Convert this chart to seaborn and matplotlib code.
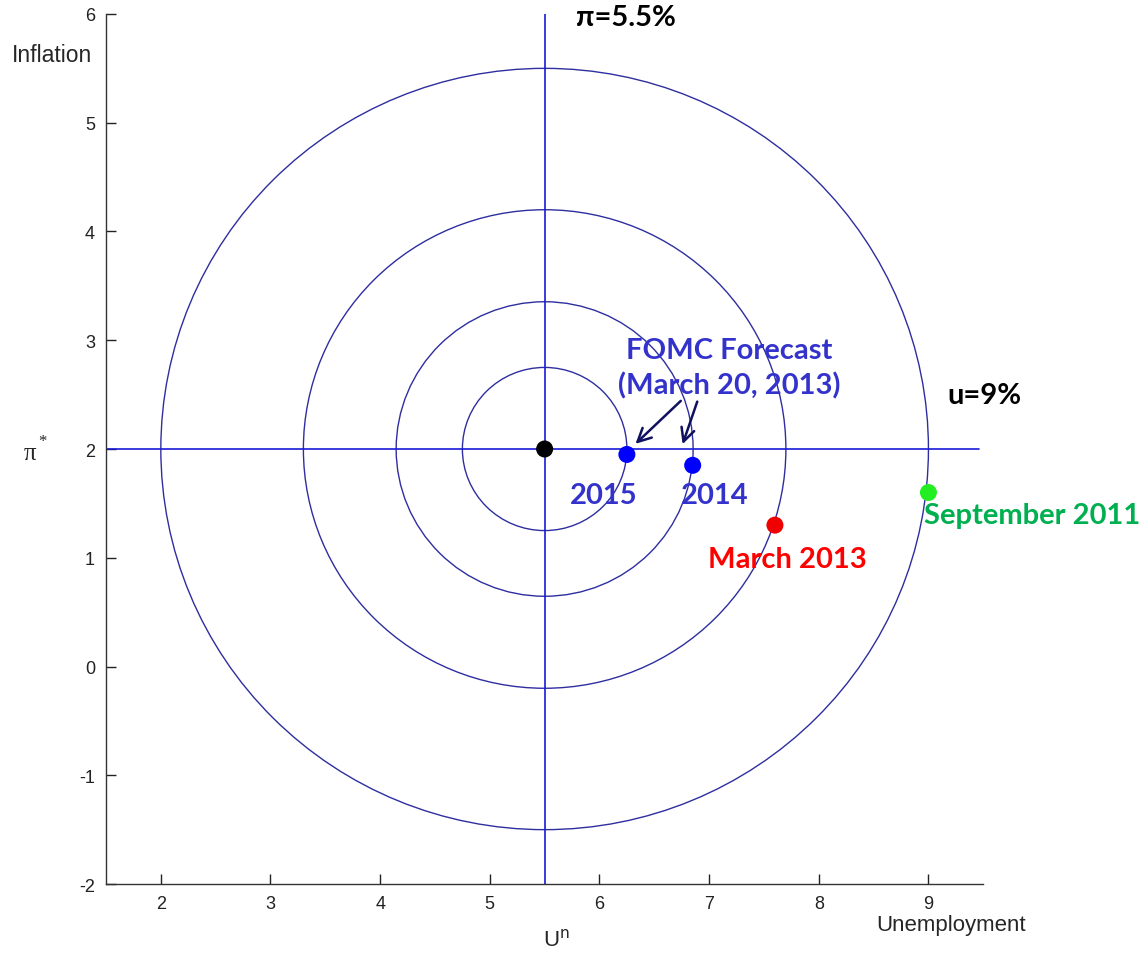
import matplotlib
matplotlib.use('Agg')
import matplotlib.pyplot as plt
import matplotlib.patches as mpatches
import pandas as pd
import seaborn as sns

# Data
center_u = 5.5
center_pi = 2.0
radii = [0.75, 1.354, 2.2, 3.5]

point_labels = ['Target', '2015', '2014', 'March 2013', 'September 2011']
point_u = [5.5, 6.25, 6.85, 7.6, 9.0]
point_pi = [2.0, 1.95, 1.85, 1.3, 1.6]
point_colors = ['#000000', '#0000FF', '#0000FF', '#F00000', '#22EE22']

x_ticks = [2, 3, 4, 5, 6, 7, 8, 9]
y_ticks = [-2, -1, 0, 1, 2, 3, 4, 5, 6]

df = pd.DataFrame({'label': point_labels, 'u': point_u, 'pi': point_pi})

sns.set_style('white')
plt.rcParams['font.family'] = ['Liberation Sans', 'DejaVu Sans']
plt.rcParams['axes.unicode_minus'] = False

fig = plt.figure(figsize=(11.46, 9.54), dpi=100)
ax = fig.add_axes([0.0925, 0.0723, 0.7655, 0.912])

# loss circles
for r in radii:
    ax.add_patch(mpatches.Circle((center_u, center_pi), r, fill=False,
                                 edgecolor='#2e2ea0', linewidth=1.0))

# target lines
ax.axhline(center_pi, xmin=0, xmax=0.995, color='#1a1ad8', linewidth=1.2)
ax.axvline(center_u, color='#1a1ad8', linewidth=1.2)

sns.scatterplot(data=df, x='u', y='pi', hue='label', palette=point_colors,
                s=150, edgecolor='none', legend=False, ax=ax, zorder=5)

ax.set_xlim(1.5, 9.5)
ax.set_ylim(-2, 6)
ax.set_xticks(x_ticks)
ax.set_yticks(y_ticks)
ax.set_xlabel('')
ax.set_ylabel('')
ax.tick_params(bottom=True, left=True, direction='in', length=7, width=1,
               labelsize=13, colors='#222222', pad=8)
for side in ['top', 'right']:
    ax.spines[side].set_visible(False)
for side in ['left', 'bottom']:
    ax.spines[side].set_color('#333333')
    ax.spines[side].set_linewidth(1.0)

bold = dict(family=['Lato', 'DejaVu Sans'], fontweight='bold', fontsize=21)
ax.text(5.79, 5.97, 'π=5.5%', color='black', ha='left', va='center', clip_on=False, **bold)
ax.text(9.175, 2.50, 'u=9%', color='black', ha='left', va='center', clip_on=False, **bold)
ax.text(7.18, 2.906, 'FOMC Forecast', color='#3333CC', ha='center', va='center', **bold)
ax.text(7.18, 2.593, '(March 20, 2013)', color='#3333CC', ha='center', va='center', **bold)
ax.text(5.73, 1.574, '2015', color='#3333CC', ha='left', va='center', **bold)
ax.text(6.74, 1.574, '2014', color='#3333CC', ha='left', va='center', **bold)
ax.text(6.99, 0.986, 'March 2013', color='#FF0000', ha='left', va='center', **bold)
ax.text(8.957, 1.39, 'September 2011', color='#00B050', ha='left', va='center', clip_on=False, **bold)

arrow = dict(arrowstyle='->', color='#101060', linewidth=1.8, mutation_scale=24)
ax.annotate('', xy=(6.31, 2.03), xytext=(6.76, 2.46), arrowprops=arrow)
ax.annotate('', xy=(6.75, 2.02), xytext=(6.90, 2.46), arrowprops=arrow)

fig.text(0.0105, 0.942, 'Inflation', fontsize=16.5, ha='left', va='center')
fig.text(0.021, 0.524, 'π', fontsize=18, ha='left', va='center',
         family=['Liberation Serif'])
fig.text(0.0335, 0.537, '*', fontsize=12, ha='left', va='center',
         family=['Liberation Serif'])
fig.text(0.4735, 0.0147, r'U$^{\rm n}$', fontsize=16, ha='left', va='center')
fig.text(0.7645, 0.030, 'Unemployment', fontsize=16, ha='left', va='center')

fig.savefig('out.png', dpi=100)
